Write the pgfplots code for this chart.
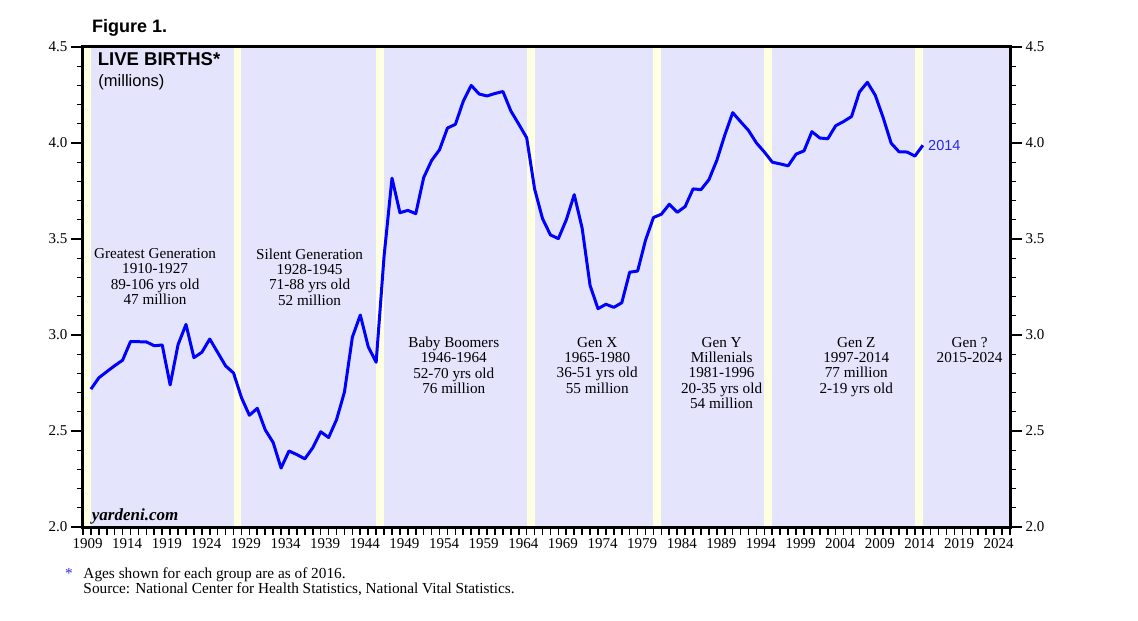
\documentclass[border=0pt]{standalone}
\usepackage{fontspec}
\setmainfont{Liberation Serif}
\newfontfamily\arial{Liberation Sans}
\usepackage{pgfplots}
\pgfplotsset{compat=1.18}

\definecolor{lav}{RGB}{228,228,253}
\definecolor{bandyellow}{RGB}{255,255,226}
\definecolor{lineblue}{RGB}{0,0,255}
\definecolor{lblblue}{RGB}{40,40,235}

\pgfplotsset{
  common/.style={
    at={(0,0)}, anchor=south west, scale only axis,
    width=927pt, height=480pt,
    xmin=1908, xmax=2025, ymin=2, ymax=4.5,
    ytick={2,2.5,...,4.5},
    minor ytick={2.1,2.2,...,4.45},
    tick align=outside,
    major tick length=12pt, minor tick length=6pt,
    ytick style={line width=1.1pt, black},
    yticklabel style={/pgf/number format/fixed, /pgf/number format/fixed zerofill,
      /pgf/number format/precision=1},
    /pgf/number format/assume math mode=true,
    ticklabel style={font=\fontsize{15}{15}\selectfont},
  }
}

\begin{document}
\begin{tikzpicture}
\useasboundingbox (-83pt,-94pt) rectangle (1055pt,527pt);

\begin{axis}[common,
  axis on top,
  axis background/.style={fill=bandyellow},
  axis line style={line width=3pt, black},
  xtick={1909,1914,...,2024},
  minor xtick={1908,...,2025},
  xtick pos=lower, ytick pos=both, yticklabel pos=left,
  xtick style={line width=1.6pt, black, /pgfplots/major tick length=7.5pt, /pgfplots/minor tick length=7.5pt},
  xticklabel style={/pgf/number format/1000 sep={}, xshift=-3.4pt, yshift=4pt},
]
% generation bands
\addplot[draw=none, fill=lav] coordinates {(1909,4.5) (1927,4.5)} \closedcycle;
\addplot[draw=none, fill=lav] coordinates {(1928,4.5) (1945,4.5)} \closedcycle;
\addplot[draw=none, fill=lav] coordinates {(1946,4.5) (1964,4.5)} \closedcycle;
\addplot[draw=none, fill=lav] coordinates {(1965,4.5) (1980,4.5)} \closedcycle;
\addplot[draw=none, fill=lav] coordinates {(1981,4.5) (1994,4.5)} \closedcycle;
\addplot[draw=none, fill=lav] coordinates {(1995,4.5) (2013,4.5)} \closedcycle;
\addplot[draw=none, fill=lav] coordinates {(2014,4.5) (2025,4.5)} \closedcycle;

% live births, millions
\addplot[lineblue, line width=3pt, line join=round] coordinates {
(1909,2.718) (1910,2.777) (1911,2.809) (1912,2.840) (1913,2.869) (1914,2.966)
(1915,2.965) (1916,2.964) (1917,2.944) (1918,2.948) (1919,2.740) (1920,2.950)
(1921,3.055) (1922,2.882) (1923,2.910) (1924,2.979) (1925,2.909) (1926,2.839)
(1927,2.802) (1928,2.674) (1929,2.582) (1930,2.618) (1931,2.506) (1932,2.440)
(1933,2.307) (1934,2.396) (1935,2.377) (1936,2.355) (1937,2.413) (1938,2.496)
(1939,2.466) (1940,2.559) (1941,2.703) (1942,2.989) (1943,3.104) (1944,2.939)
(1945,2.858) (1946,3.411) (1947,3.817) (1948,3.637) (1949,3.649) (1950,3.632)
(1951,3.820) (1952,3.909) (1953,3.965) (1954,4.078) (1955,4.097) (1956,4.218)
(1957,4.300) (1958,4.255) (1959,4.245) (1960,4.258) (1961,4.268) (1962,4.167)
(1963,4.098) (1964,4.027) (1965,3.760) (1966,3.606) (1967,3.521) (1968,3.502)
(1969,3.600) (1970,3.731) (1971,3.556) (1972,3.258) (1973,3.137) (1974,3.160)
(1975,3.144) (1976,3.168) (1977,3.327) (1978,3.333) (1979,3.494) (1980,3.612)
(1981,3.629) (1982,3.681) (1983,3.639) (1984,3.669) (1985,3.761) (1986,3.757)
(1987,3.809) (1988,3.910) (1989,4.041) (1990,4.158) (1991,4.111) (1992,4.065)
(1993,4.000) (1994,3.953) (1995,3.900) (1996,3.891) (1997,3.881) (1998,3.942)
(1999,3.959) (2000,4.059) (2001,4.026) (2002,4.022) (2003,4.090) (2004,4.112)
(2005,4.138) (2006,4.266) (2007,4.316) (2008,4.248) (2009,4.131) (2010,3.999)
(2011,3.954) (2012,3.953) (2013,3.932) (2014,3.988)
};

\node[anchor=base west, font=\arial\fontsize{14.5}{14.5}\selectfont, text=lblblue, inner sep=0pt]
  at (axis cs:2014.65,3.963) {2014};

\begin{scope}[every node/.style={anchor=north, align=center, inner sep=0pt,
    font=\fontsize{15.2}{15.3}\selectfont}]
\node at (axis cs:1917.1,3.451) {Greatest Generation\\1910-1927\\89-106 yrs old\\47 million};
\node at (axis cs:1936.6,3.451) {Silent Generation\\1928-1945\\71-88 yrs old\\52 million};
\node at (axis cs:1954.8,2.99) {Baby Boomers\\1946-1964\\52-70 yrs old\\76 million};
\node at (axis cs:1972.9,2.99) {Gen X\\1965-1980\\36-51 yrs old\\55 million};
\node at (axis cs:1988.6,2.99) {Gen Y\\Millenials\\1981-1996\\20-35 yrs old\\54 million};
\node at (axis cs:2005.6,2.99) {Gen Z\\1997-2014\\77 million\\2-19 yrs old};
\node at (axis cs:2019.9,2.99) {Gen ?\\2015-2024};
\end{scope}
\end{axis}

% right-hand tick labels
\begin{axis}[common,
  hide x axis, axis y line*=right,
  axis line style={line width=3pt, black},
  ytick pos=right, yticklabel pos=right,
]
\end{axis}

\node[anchor=base west, inner sep=0pt, font=\arial\bfseries\fontsize{18}{18}\selectfont] at (9pt,494.7pt) {Figure 1.};
\node[anchor=base west, inner sep=0pt, font=\arial\bfseries\fontsize{18.5}{18.5}\selectfont] at (14.7pt,461pt) {LIVE BIRTHS*};
\node[anchor=base west, inner sep=0pt, font=\arial\fontsize{16.5}{16.5}\selectfont] at (15.3pt,440.5pt) {(millions)};
\node[anchor=base west, inner sep=0pt, font=\bfseries\itshape\fontsize{17}{17}\selectfont] at (8.7pt,6.3pt) {yardeni.com};

\node[anchor=base west, inner sep=0pt, font=\fontsize{15.3}{15.3}\selectfont, text=lblblue] at (-18pt,-51.3pt) {*};
\node[anchor=base west, inner sep=0pt, font=\fontsize{15.3}{15.3}\selectfont] at (0.3pt,-51.3pt) {Ages shown for each group are as of 2016.};
\node[anchor=base west, inner sep=0pt, font=\fontsize{15.3}{15.3}\selectfont] at (0.3pt,-66.3pt) {Source: National Center for Health Statistics, National Vital Statistics.};
\end{tikzpicture}
\end{document}
